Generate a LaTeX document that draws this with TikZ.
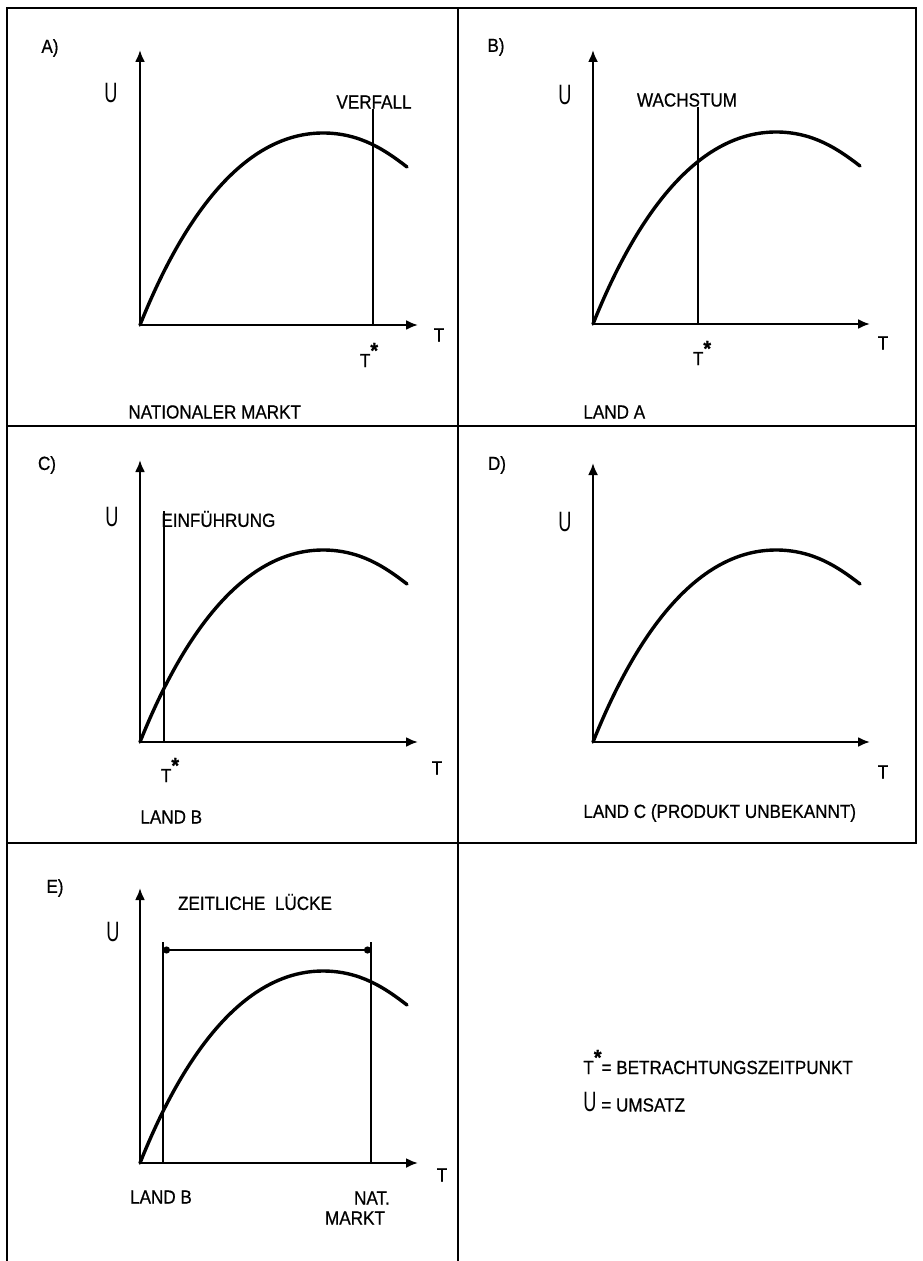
\documentclass[tikz,border=0pt]{standalone}
\usepackage{fontspec}
\setmainfont{Liberation Sans}[FakeStretch=0.9,FakeBold=0.6]
\newfontfamily\tallfont{Liberation Sans}[FakeStretch=0.65]
\usetikzlibrary{arrows.meta}
\newcommand{\tstar}{T\raisebox{0.9ex}{\fontsize{11}{11}\selectfont\bfseries *}}
\tikzset{
  frame/.style={line width=1.4pt,line cap=rect},
  axis/.style={line width=1.1pt,-{Latex[length=6pt,width=5pt]}},
  curve/.style={line width=1.7pt,line cap=round},
  marker/.style={line width=0.85pt},
  gap/.style={line width=1.1pt,{Circle[length=3.5pt]}-{Circle[length=3.5pt]}},
  lbl/.style={inner sep=0pt,font=\fontsize{9.5}{11}\selectfont},
  ulbl/.style={inner sep=0pt,font=\tallfont\fontsize{14}{14}\selectfont},
}
\begin{document}
\begin{tikzpicture}[x=0.5pt,y=-0.5pt]
    \useasboundingbox (0,0) rectangle (922,1261);
    % panel grid
    \draw[frame] (7,1261) -- (7,8) -- (916,8) -- (916,843);
    \draw[frame] (7,426) -- (916,426);
    \draw[frame] (7,843) -- (916,843);
    \draw[frame] (458,8) -- (458,1261);

    % axes and life cycle curves
    \foreach \p/\ox/\oy/\tx/\ty in {a/140/325/418/50, b/593/324/870/50,
        c/140/742/418/460, d/593/742/870/463, e/140/1163/418/888} {
      \coordinate (o\p) at (\ox,\oy);
      \coordinate (t\p) at (\tx,\oy);
      \coordinate (u\p) at (\ox,\ty);
      \draw[axis] (o\p) -- (t\p);
      \draw[axis] (o\p) -- (u\p);
      \begin{scope}[shift={(o\p)}]
        \draw[curve] (0,0) .. controls (40,-100) and (100,-192) .. (183,-192)
          .. controls (220,-192) and (245,-175) .. (267,-158);
      \end{scope}
    }

    % panel letters
    \node[lbl] (pa) at (50,48) {A)};
    \node[lbl] (pb) at (496,47) {B)};
    \node[lbl] (pc) at (47,465) {C)};
    \node[lbl] (pd) at (497,465) {D)};
    \node[lbl] (pe) at (55,888) {E)};

    % axis labels
    \node[ulbl] (ya) at (111,93) {U};
    \node[ulbl] (yb) at (565,95) {U};
    \node[ulbl] (yc) at (112,517) {U};
    \node[ulbl] (yd) at (565,522) {U};
    \node[ulbl] (ye) at (113,932) {U};
    \node[lbl] (xa) at (439,335) {T};
    \node[lbl] (xb) at (883,343) {T};
    \node[lbl] (xc) at (437,768) {T};
    \node[lbl] (xd) at (883,772) {T};
    \node[lbl] (xe) at (442,1175) {T};

    % A) nationaler Markt
    \node[lbl] (verfall) at (374,102) {VERFALL};
    \coordinate (ma) at (373,325);
    \draw[marker] (ma) -- (ma |- verfall.south);
    \node[lbl] (sa) at (369,355) {\tstar};
    \node[lbl,anchor=west] (na) at (128,412) {NATIONALER MARKT};

    % B) Land A
    \node[lbl] (wachs) at (687,100) {WACHSTUM};
    \coordinate (mb) at (698,324);
    \draw[marker] (mb) -- (mb |- wachs.south);
    \node[lbl] (sb) at (702,353) {\tstar};
    \node[lbl,anchor=west] (nb) at (583,412) {LAND A};

    % C) Land B
    \node[lbl,anchor=west] (einf) at (161,519) {EINFÜHRUNG};
    \coordinate (mc) at (164,742);
    \draw[marker] (mc) -- (mc |- einf.north);
    \node[lbl] (sc) at (170,770) {\tstar};
    \node[lbl,anchor=west] (nc) at (140,817) {LAND B};

    % D) Land C
    \node[lbl,anchor=west] (nd) at (583,813) {LAND C (PRODUKT UNBEKANNT)};

    % E) zeitliche Luecke
    \node[lbl] (luecke) at (255,902) {ZEITLICHE\ \ LÜCKE};
    \coordinate (gl) at (163,1163);
    \coordinate (gr) at (371,1163);
    \coordinate (gla) at (163,942);
    \coordinate (gra) at (371,942);
    \coordinate (dl) at (163,950);
    \coordinate (dr) at (371,950);
    \draw[marker] (gl) -- (gla);
    \draw[marker] (gr) -- (gra);
    \draw[gap] (dl) -- (dr);
    \node[lbl] (lb) at (161,1197) {LAND B};
    \node[lbl] (nat) at (372,1198) {NAT.};
    \node[lbl] (markt) at (355,1218) {MARKT};

    % legend
    \node[lbl,anchor=west] (leg1) at (583,1062) {\tstar= BETRACHTUNGSZEITPUNKT};
    \node[lbl,anchor=west] (leg2) at (583,1102) {{\tallfont\fontsize{14}{14}\selectfont U} = UMSATZ};
\end{tikzpicture}
\end{document}
